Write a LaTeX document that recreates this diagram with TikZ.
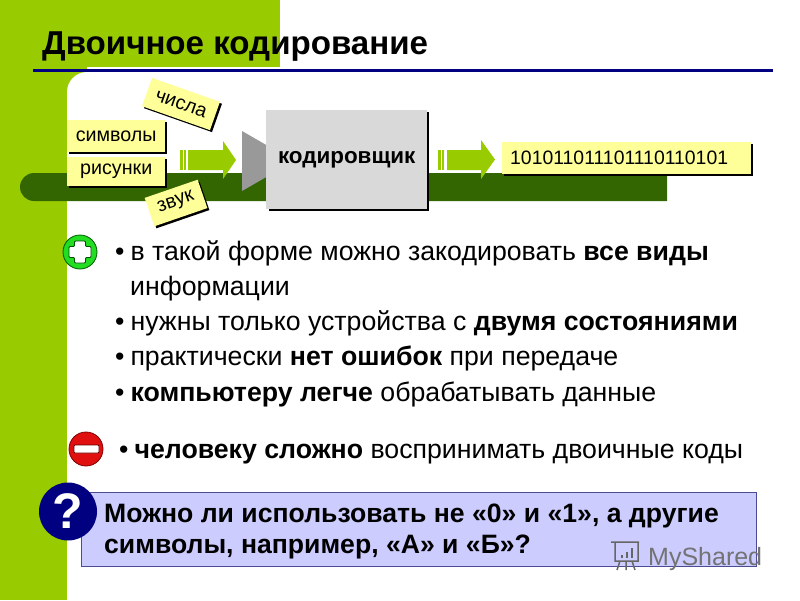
\documentclass[tikz,border=0pt]{standalone}
\usepackage{fontspec}
\setmainfont{Liberation Sans}
\definecolor{lime}{HTML}{99CC00}
\definecolor{darkbar}{HTML}{336600}
\definecolor{paleyellow}{HTML}{FFFF99}
\definecolor{navyline}{HTML}{000080}
\definecolor{lilac}{HTML}{CCCCFF}
\definecolor{plusgreen}{HTML}{22DD22}
\definecolor{minusred}{HTML}{E01010}
\newcommand{\fs}[1]{\fontsize{#1}{#1}\selectfont}
\tikzset{
  x=1pt,y=-1pt,
  tag/.style={fill=paleyellow,inner sep=0pt,minimum height=30pt,text=black,font=\fs{19.7},
    preaction={fill=black,transform canvas={xshift=2pt,yshift=-2pt}}},
  body/.style={anchor=base west,inner sep=0pt,font=\fs{26.7},text=black},
  qtext/.style={anchor=base west,inner sep=0pt,font=\fs{26.6}\bfseries,text=black},
  blockarrow/.style={fill=lime,draw=none},
}
\begin{document}
\begin{tikzpicture}
\useasboundingbox (0,0) rectangle (800,600);
% background
\fill[white] (0,0) rectangle (800,600);
\fill[lime] (0,0) rectangle (280,67);
\fill[lime] (0,0) rectangle (67,600);
\fill[lime] (67,67) rectangle (87,92);
\fill[white] (67,600) -- (67,92) arc[start angle=180,end angle=90,radius=20pt] -- (800,72) -- (800,600) -- cycle;
% dark bar
\fill[darkbar] (667,173) -- (34,173) arc[start angle=90,end angle=270,radius=14pt] -- (667,201) -- cycle;
% title
\node[anchor=base west,inner sep=0pt,font=\fs{33.1}\bfseries] (title) at (42,54) {Двоичное кодирование};
\coordinate (ruleA) at (33,70);
\coordinate (ruleB) at (773,70);
\draw[navyline,line width=3pt] (ruleA) -- (ruleB);
% arrows
\fill[blockarrow] (180,150) rectangle (182.5,170);
\fill[blockarrow] (184,150) rectangle (186,170);
\fill[blockarrow] (188,150) -- (223,150) -- (223,141) -- (236,160) -- (223,179) -- (223,170) -- (188,170) -- cycle;
\fill[blockarrow] (438,150) rectangle (440.5,170);
\fill[blockarrow] (442,150) rectangle (444,170);
\fill[blockarrow] (447,150) -- (481,150) -- (481,140) -- (495,159.5) -- (481,179) -- (481,170) -- (447,170) -- cycle;
% encoder
\fill[black!40] (242,131) -- (268,146) -- (268,176) -- (242,191) -- cycle;
\fill[black] (269,112) rectangle (429,211);
\node[fill=black!15,minimum width=161pt,minimum height=99pt,inner sep=0pt,anchor=north west,font=\fs{22.4}\bfseries] (coder) at (266,110) {кодировщик};
% tags
\node[tag,minimum width=98pt,minimum height=32pt,anchor=north west] (sym) at (67,120) {символы};
\node[tag,minimum width=98pt,minimum height=29pt,anchor=north west] (pic) at (67,157) {рисунки};
\node[tag,minimum width=72pt,minimum height=30pt,rotate=-19.4] (num) at (181,104) {числа};
\node[tag,minimum width=56pt,minimum height=30pt,rotate=19] (snd) at (176,203) {звук};
\node[tag,minimum width=249pt,minimum height=32pt,anchor=north west,text width=233pt,align=left,font=\fs{19.4}] (bits) at (502,142) {101011011101110110101};
% plus
\node[circle,fill=plusgreen,draw=green!35!black,line width=0.8pt,minimum size=34pt,inner sep=0pt] (plus) at (80,252) {};
\draw[draw=green!30!black,line width=0.8pt,fill=white,rounded corners=1pt] (74.5,241) -- (85.5,241) -- (85.5,246.5) -- (91,246.5) -- (91,257.5) -- (85.5,257.5) -- (85.5,263) -- (74.5,263) -- (74.5,257.5) -- (69,257.5) -- (69,246.5) -- (74.5,246.5) -- cycle;
% body
\node[body] (b1) at (115,260.5) {•\hspace{6pt}в такой форме можно закодировать \textbf{все виды}};
\node[body] (b1a) at (130,295.5) {информации};
\node[body] (b2) at (115,330) {•\hspace{6pt}нужны только устройства с \textbf{двумя состояниями}};
\node[body] (b3) at (115,365) {•\hspace{6pt}практически \textbf{нет ошибок} при передаче};
\node[body] (b4) at (115,401) {•\hspace{6pt}\textbf{компьютеру легче} обрабатывать данные};
% minus
\node[circle,fill=minusred,draw=red!50!black,line width=0.8pt,minimum size=34pt,inner sep=0pt] (minus) at (86,449) {};
\draw[draw=red!40!black,line width=0.8pt,fill=white,rounded corners=1pt] (74,445) rectangle (99,453);
\node[body] (b5) at (119,458.5) {•\hspace{6pt}\textbf{человеку сложно} воспринимать двоичные коды};
% question
\node[fill=lilac,draw=black!60!blue!70,line width=1pt,minimum width=675pt,minimum height=74.5pt,inner sep=0pt,anchor=north west] (qbox) at (80.5,491.5) {};
\node[qtext] (q1) at (104,522) {Можно ли использовать не «0» и «1», а другие};
\node[qtext] (q2) at (104,553) {символы, например, «А» и «Б»?};
\node[circle,fill=navyline,minimum size=58pt,inner sep=0pt,text=white,font=\fs{50}\bfseries] (qm) at (68,511.5) {?};
% watermark
\node[anchor=base west,inner sep=0pt,font=\fs{25},text=black!55] (wm) at (648,565) {MyShared};
\draw[black!60,line width=1.5pt] (611,542) -- (639,542) (615,542) -- (615,561) -- (638,561) -- (638,542) (620,561) -- (617,570) (626,561) -- (626,570) (632,561) -- (635,570);
\draw[black!60,line width=2pt] (622,558) -- (622,555) (627,558) -- (627,552) (632,558) -- (632,548);
\end{tikzpicture}
\end{document}
